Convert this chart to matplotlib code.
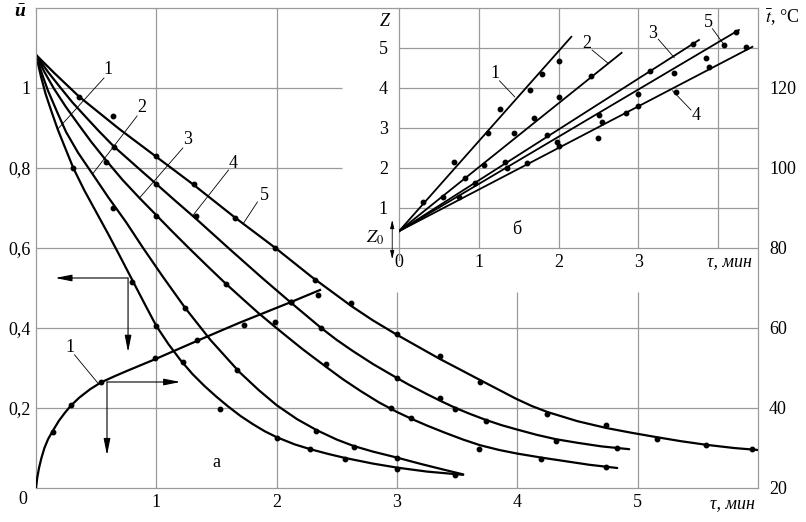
import matplotlib
matplotlib.use('Agg')
import matplotlib.pyplot as plt

plt.rcParams['font.family'] = ['Liberation Serif', 'DejaVu Serif']
plt.rcParams['mathtext.fontset'] = 'stix'

W, H = 806, 522
GRID = '#9a9a9a'
FS = 13

# ---- main plot (a): moisture content u vs time ----
tau_1 = [0, 0.04, 0.08, 0.13, 0.18, 0.24, 0.31, 0.4, 0.5, 0.6, 0.7, 0.8, 0.9, 1.0, 1.1, 1.2, 1.3, 1.4,
         1.5, 1.6, 1.7, 1.8, 1.9, 2.0, 2.15, 2.28, 2.43, 2.57, 2.8, 3.0, 3.25, 3.55]
u_1 = [1.083, 1.03, 0.985, 0.94, 0.897, 0.852, 0.80, 0.745, 0.69, 0.635, 0.578, 0.52, 0.462, 0.405, 0.36, 0.32,
       0.285, 0.255, 0.228, 0.203, 0.18, 0.16, 0.142, 0.127, 0.109, 0.097, 0.085, 0.075, 0.061, 0.051, 0.041, 0.033]
tau_2 = [0, 0.05, 0.1, 0.18, 0.25, 0.35, 0.47, 0.6, 0.75, 0.89, 1.05, 1.24, 1.45, 1.69, 1.85, 2.0, 2.17,
         2.33, 2.5, 2.64, 2.8, 3.0, 3.2, 3.4, 3.55]
u_2 = [1.083, 1.035, 0.993, 0.937, 0.89, 0.838, 0.785, 0.727, 0.664, 0.60, 0.53, 0.45, 0.37, 0.29, 0.245, 0.207,
       0.172, 0.145, 0.121, 0.105, 0.091, 0.076, 0.06, 0.045, 0.034]
tau_3 = [0, 0.07, 0.15, 0.25, 0.35, 0.46, 0.58, 0.72, 0.86, 1.0, 1.13, 1.27, 1.42, 1.58, 1.72, 1.85, 1.99, 2.1,
         2.22, 2.41, 2.55, 2.7, 2.85, 3.0, 3.12, 3.25, 3.4, 3.55, 3.69, 3.85, 4.0, 4.2, 4.4, 4.6, 4.83]
u_3 = [1.083, 1.04, 0.998, 0.952, 0.91, 0.865, 0.82, 0.77, 0.725, 0.682, 0.642, 0.60, 0.556, 0.51, 0.472, 0.437,
       0.402, 0.375, 0.346, 0.303, 0.272, 0.242, 0.214, 0.19, 0.173, 0.156, 0.138, 0.121, 0.107, 0.095, 0.086,
       0.076, 0.067, 0.058, 0.05]
tau_4 = [0, 0.1, 0.2, 0.3, 0.4, 0.52, 0.65, 0.86, 1.0, 1.15, 1.33, 1.61, 1.88, 2.12, 2.37, 2.5, 2.63, 2.8, 3.0,
         3.1, 3.24, 3.36, 3.48, 3.6, 3.74, 3.87, 4.0, 4.16, 4.32, 4.5, 4.7, 4.93]
u_4 = [1.083, 1.04, 1.002, 0.965, 0.932, 0.893, 0.853, 0.797, 0.76, 0.72, 0.673, 0.597, 0.525, 0.463, 0.40, 0.37,
       0.343, 0.31, 0.275, 0.258, 0.236, 0.218, 0.201, 0.186, 0.17, 0.157, 0.146, 0.133, 0.122, 0.113, 0.104, 0.097]
tau_5 = [0, 0.15, 0.36, 0.69, 1.0, 1.31, 1.65, 1.99, 2.29, 2.62, 2.8, 3.0, 3.2, 3.36, 3.5, 3.69, 3.85, 3.99,
         4.12, 4.25, 4.5, 4.74, 4.95, 5.16, 5.36, 5.57, 5.8, 6.0]
u_5 = [1.083, 1.038, 0.978, 0.898, 0.828, 0.758, 0.677, 0.60, 0.528, 0.455, 0.419, 0.383, 0.349, 0.322, 0.30,
       0.27, 0.245, 0.223, 0.205, 0.19, 0.167, 0.15, 0.138, 0.127, 0.117, 0.108, 0.10, 0.095]

# measured points
m1_tau = [0.31, 0.80, 1.0, 1.22, 1.53, 2.0, 2.28, 2.57, 3.0, 3.48]
m1_u = [0.80, 0.515, 0.404, 0.315, 0.198, 0.126, 0.098, 0.073, 0.048, 0.032]
m2_tau = [0.64, 1.24, 1.67, 2.33, 2.64, 3.0]
m2_u = [0.70, 0.45, 0.296, 0.143, 0.103, 0.076]
m3_tau = [0.58, 1.0, 1.58, 2.41, 2.95, 3.12, 3.68, 4.2, 4.74]
m3_u = [0.815, 0.68, 0.51, 0.31, 0.20, 0.175, 0.098, 0.072, 0.053]
m4_tau = [0.65, 1.0, 1.33, 2.12, 2.37, 3.0, 3.36, 3.48, 3.74, 4.32, 4.83]
m4_u = [0.853, 0.76, 0.68, 0.465, 0.40, 0.274, 0.225, 0.198, 0.168, 0.118, 0.10]
m5_tau = [0.36, 0.64, 1.0, 1.31, 1.65, 1.99, 2.32, 2.62, 3.0, 3.36, 3.69, 4.25, 4.74, 5.16, 5.57, 5.95]
m5_u = [0.978, 0.93, 0.83, 0.76, 0.675, 0.60, 0.52, 0.463, 0.385, 0.33, 0.265, 0.185, 0.157, 0.123, 0.107, 0.098]

# temperature curve 1, deg C
t_tau = [0, 0.01, 0.025, 0.045, 0.07, 0.1, 0.14, 0.19, 0.24, 0.29, 0.36, 0.45, 0.54, 0.65, 0.75, 0.87, 0.99,
         1.34, 1.69, 2.12, 2.36]
t_val = [20, 22.5, 25, 27.5, 30, 32.2, 34.3, 36.8, 38.8, 40.6, 42.6, 44.7, 46.4, 47.9, 49.2, 50.7, 52.2,
         56.8, 61.3, 66.5, 69.5]
tm_tau = [0.14, 0.29, 0.54, 0.99, 1.34, 1.73, 1.99, 2.12, 2.34]
tm_val = [34.1, 40.8, 46.4, 52.5, 57.0, 60.8, 61.5, 66.5, 68.3]

u_ticks = [0.2, 0.4, 0.6, 0.8, 1.0]
u_labels = ['0,2', '0,4', '0,6', '0,8', '1']
tau_ticks = [1, 2, 3, 4, 5]
t_ticks = [20, 40, 60, 80, 100, 120]

# ---- inset (b): Z vs time, straight lines from Z0 ----
Z0 = 0.42
z_tau_end = [2.16, 2.79, 3.76, 4.43, 4.26]
z_end = [5.28, 4.88, 5.20, 5.03, 5.45]
zm_tau = [
    [0.3, 0.69, 1.11, 1.26, 1.64, 1.79, 2.01],
    [0.55, 0.83, 1.06, 1.44, 1.69, 2.0, 2.41],
    [0.95, 1.33, 1.85, 2.51, 3.14, 3.68],
    [1.61, 2.0, 2.49, 2.54, 2.84, 3.0, 3.47, 3.85, 3.89, 4.35],
    [0.75, 1.35, 1.98, 2.99, 3.45, 4.08, 4.22],
]
zm_val = [
    [1.15, 2.15, 2.87, 3.47, 3.95, 4.35, 4.68],
    [1.28, 1.75, 2.07, 2.88, 3.25, 3.78, 4.3],
    [1.63, 2.15, 2.83, 3.33, 4.43, 5.1],
    [2.12, 2.55, 2.75, 3.15, 3.37, 3.55, 3.9, 4.75, 4.53, 5.03],
    [1.28, 2.0, 2.65, 3.84, 4.37, 5.08, 5.4],
]


def px_box(x0, y0, x1, y1):
    return [x0 / W, 1 - y1 / H, (x1 - x0) / W, (y1 - y0) / H]


def arrow(a, start, end):
    a.annotate('', xy=end, xytext=start,
               arrowprops=dict(arrowstyle='-|>,head_length=1.0,head_width=0.2',
                               color='k', lw=0.8, shrinkA=0, shrinkB=0))


def tag(a, text, txy, p0, p1):
    a.text(txy[0], txy[1], text, ha='center', va='center', fontsize=FS)
    a.plot([p0[0], p1[0]], [p0[1], p1[1]], color='k', lw=0.6)


fig = plt.figure(figsize=(W / 100, H / 100), dpi=100)

ax = fig.add_axes(px_box(36, 8, 758, 488))
ax.set_xlim(0, 6)
ax.set_ylim(0, 1.2)
for s in ax.spines.values():
    s.set_color(GRID)
    s.set_linewidth(0.9)

# grid (partly hidden behind the inset)
ax.hlines([0.2, 0.4, 0.6], 0, 6, color=GRID, lw=0.9)
ax.hlines([0.8, 1.0], 0, 2.54, color=GRID, lw=0.9)
ax.vlines([1, 2], 0, 1.2, color=GRID, lw=0.9)
ax.vlines([3, 4, 5], 0, 0.49, color=GRID, lw=0.9)

ax.set_xticks(tau_ticks)
ax.set_xticklabels([str(t) for t in tau_ticks])
ax.set_yticks(u_ticks)
ax.set_yticklabels(u_labels)
ax.tick_params(length=0, labelsize=FS)
ax.tick_params(axis='x', pad=4)
ax.tick_params(axis='y', pad=4)

curves = [(tau_1, u_1), (tau_2, u_2), (tau_3, u_3), (tau_4, u_4), (tau_5, u_5)]
marks = [(m1_tau, m1_u), (m2_tau, m2_u), (m3_tau, m3_u), (m4_tau, m4_u), (m5_tau, m5_u)]
for (tx, uy), (mx, my) in zip(curves, marks):
    ax.plot(tx, uy, color='k', lw=1.6, solid_joinstyle='round', solid_capstyle='round')
    ax.plot(mx, my, 'o', color='k', ms=3.2)

tag(ax, '1', (0.60, 1.045), (0.565, 1.025), (0.18, 0.897))
tag(ax, '2', (0.88, 0.95), (0.84, 0.93), (0.47, 0.785))
tag(ax, '3', (1.26, 0.87), (1.22, 0.85), (0.86, 0.725))
tag(ax, '4', (1.64, 0.81), (1.60, 0.795), (1.30, 0.68))
tag(ax, '5', (1.90, 0.73), (1.84, 0.715), (1.72, 0.66))
tag(ax, '1', (0.28, 0.35), (0.32, 0.333), (0.515, 0.262))

arrow(ax, (0.765, 0.525), (0.16, 0.525))
arrow(ax, (0.765, 0.525), (0.765, 0.34))
arrow(ax, (0.59, 0.265), (1.20, 0.265))
arrow(ax, (0.59, 0.265), (0.59, 0.082))

ax.text(1.5, 0.063, 'а', ha='center', va='center', fontsize=FS)
ax.text(-0.108, -0.03, '0', ha='center', va='center', fontsize=FS, clip_on=False)
ax.text(-0.133, 1.19, 'ū', ha='center', va='center', fontsize=FS + 1,
        fontweight='bold', fontstyle='italic', clip_on=False)
ax.text(5.97, -0.038, 'τ, мин', ha='right', va='center', fontsize=FS,
        fontstyle='italic', clip_on=False)
ax.text(6.2, 1.175, r'$\bar{t}$, °C', ha='center', va='center', fontsize=FS, clip_on=False)

# right temperature axis
ax2 = ax.twinx()
ax2.set_ylim(20, 140)
ax2.set_yticks(t_ticks)
ax2.set_yticklabels([str(t) for t in t_ticks])
ax2.tick_params(length=0, labelsize=FS, pad=8)
for s in ax2.spines.values():
    s.set_visible(False)
ax2.plot(t_tau, t_val, color='k', lw=1.6, solid_joinstyle='round')
ax2.plot(tm_tau, tm_val, 'o', color='k', ms=3.2)

# inset
axi = fig.add_axes(px_box(399, 8, 758, 248))
axi.set_xlim(0, 4.5)
axi.set_ylim(0, 6)
axi.patch.set_visible(False)
for s in axi.spines.values():
    s.set_visible(False)
axi.hlines([1, 2, 3, 4, 5], 0, 4.5, color=GRID, lw=0.9)
axi.vlines([1, 2, 3, 4], 0, 6, color=GRID, lw=0.9)
axi.plot([0, 0], [-0.3, 6], color=GRID, lw=0.9, clip_on=False)
axi.set_xticks([0, 1, 2, 3])
axi.set_xticklabels(['0', '1', '2', '3'])
axi.set_yticks([1, 2, 3, 4, 5])
axi.set_yticklabels(['1', '2', '3', '4', '5'])
axi.tick_params(length=0, labelsize=FS)
axi.tick_params(axis='x', pad=4)
axi.tick_params(axis='y', pad=8)

for te, ze, mx, my in zip(z_tau_end, z_end, zm_tau, zm_val):
    axi.plot([0, te], [Z0, ze], color='k', lw=1.3)
    axi.plot(mx, my, 'o', color='k', ms=3.2)

tag(axi, '1', (1.20, 4.35), (1.26, 4.18), (1.45, 3.78))
tag(axi, '2', (2.35, 5.10), (2.42, 4.95), (2.62, 4.62))
tag(axi, '3', (3.18, 5.37), (3.25, 5.22), (3.45, 4.76))
tag(axi, '5', (3.88, 5.64), (3.93, 5.48), (4.06, 5.12))
tag(axi, '4', (3.72, 3.30), (3.66, 3.45), (3.43, 3.93))

axi.text(-0.175, 5.65, 'Z', ha='center', va='center', fontsize=FS, fontstyle='italic')
axi.text(-0.30, 0.25, r'$Z_0$', ha='center', va='center', fontsize=FS)
axi.annotate('', xy=(-0.085, 0.7), xytext=(-0.085, -0.28), annotation_clip=False,
             arrowprops=dict(arrowstyle='<|-|>,head_length=0.5,head_width=0.12',
                             color='k', lw=0.6, shrinkA=0, shrinkB=0))
axi.text(1.475, 0.45, 'б', ha='center', va='center', fontsize=FS)
axi.text(4.14, -0.33, 'τ, мин', ha='center', va='center', fontsize=FS, fontstyle='italic')

fig.savefig('out.png', dpi=100)
